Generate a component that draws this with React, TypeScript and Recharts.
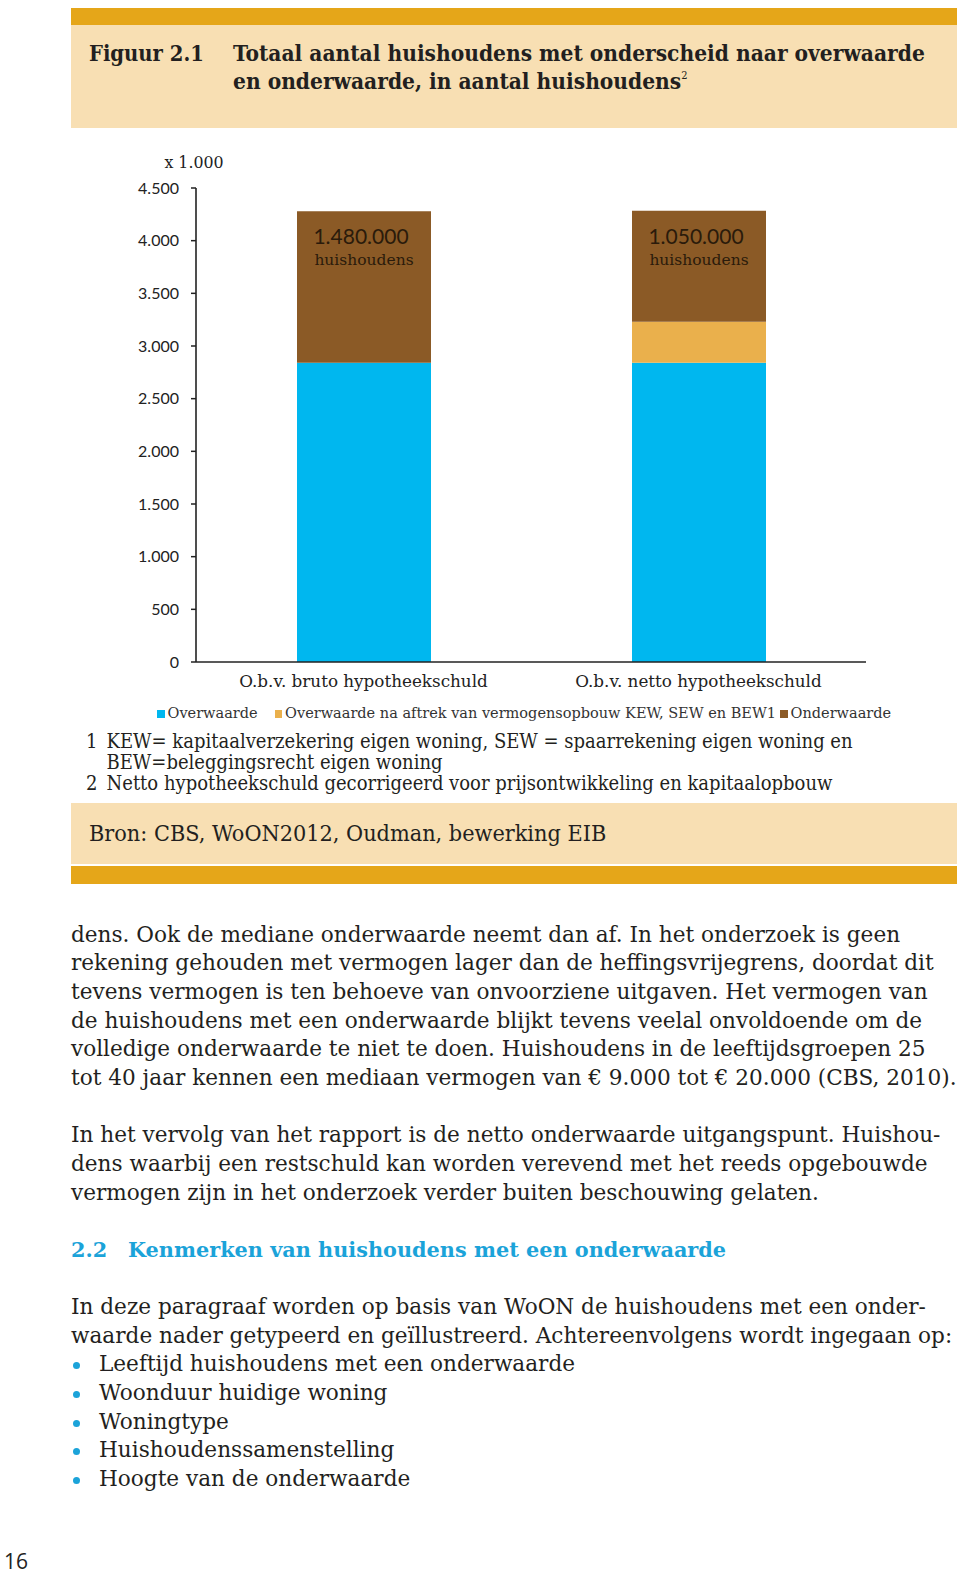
import React from 'react';
import { BarChart, Bar, XAxis, YAxis, Legend, LabelList } from 'recharts';

// ---- chart data ----
const categories = ['O.b.v. bruto hypotheekschuld', 'O.b.v. netto hypotheekschuld'];
const overwaarde = [2840, 2840];
const overwaardeNaAftrek = [0, 390];
const onderwaarde = [1440, 1055];
const onderwaardeLabels = ['1.480.000', '1.050.000'];
const onderwaardeUnit = 'huishoudens';
const yTicks = [0, 500, 1000, 1500, 2000, 2500, 3000, 3500, 4000, 4500];
const yUnitLabel = 'x 1.000';
const seriesNames = ['Overwaarde', 'Overwaarde na aftrek van vermogensopbouw KEW, SEW en BEW1', 'Onderwaarde'];
const seriesColors = ['#00B7EF', '#EAB04C', '#8B5A26'];
const gridTicks = [0, 1, 2];

// ---- page text ----
const figureNumber = 'Figuur 2.1';
const titleLines = ['Totaal aantal huishoudens met onderscheid naar overwaarde', 'en onderwaarde, in aantal huishoudens'];
const footnotes = [
  { n: '1', lines: ['KEW= kapitaalverzekering eigen woning, SEW = spaarrekening eigen woning en', 'BEW=beleggingsrecht eigen woning'] },
  { n: '2', lines: ['Netto hypotheekschuld gecorrigeerd voor prijsontwikkeling en kapitaalopbouw'] },
];
const sourceText = 'Bron: CBS, WoON2012, Oudman, bewerking EIB';
const paragraph1 = [
  'dens. Ook de mediane onderwaarde neemt dan af. In het onderzoek is geen',
  'rekening gehouden met vermogen lager dan de heffingsvrijegrens, doordat dit',
  'tevens vermogen is ten behoeve van onvoorziene uitgaven. Het vermogen van',
  'de huishoudens met een onderwaarde blijkt tevens veelal onvoldoende om de',
  'volledige onderwaarde te niet te doen. Huishoudens in de leeftijdsgroepen 25',
  'tot 40 jaar kennen een mediaan vermogen van € 9.000 tot € 20.000 (CBS, 2010).',
];
const paragraph2 = [
  'In het vervolg van het rapport is de netto onderwaarde uitgangspunt. Huishou-',
  'dens waarbij een restschuld kan worden verevend met het reeds opgebouwde',
  'vermogen zijn in het onderzoek verder buiten beschouwing gelaten.',
];
const headingNumber = '2.2';
const headingText = 'Kenmerken van huishoudens met een onderwaarde';
const paragraph3 = [
  'In deze paragraaf worden op basis van WoON de huishoudens met een onder-',
  'waarde nader getypeerd en geïllustreerd. Achtereenvolgens wordt ingegaan op:',
];
const bullets = [
  'Leeftijd huishoudens met een onderwaarde',
  'Woonduur huidige woning',
  'Woningtype',
  'Huishoudenssamenstelling',
  'Hoogte van de onderwaarde',
];
const pageNumber = '16';

const data = categories.map((name, i) => ({
  name,
  overwaarde: overwaarde[i],
  overwaardeNaAftrek: overwaardeNaAftrek[i],
  onderwaarde: onderwaarde[i],
}));

const SERIF = "'DejaVu Serif', serif";
const SERIF_COND = "'DejaVu Serif Condensed', 'DejaVu Serif', serif";
const SANS = "Lato, 'Open Sans', sans-serif";
const TEXT = '#231F20';
const GOLD = '#E5A619';
const BEIGE = '#F8DFB3';
const BLUE = '#1BA3D9';

const fmt = (v: number) => String(v).replace(/\B(?=(\d{3})+(?!\d))/g, '.');

const renderBarLabel = (props: any) => {
  const { x, y, width, index } = props;
  const cx = x + width / 2 - 3;
  return (
    <g>
      <text x={cx} y={y + 33} textAnchor="middle" fontFamily={SANS} fontSize={21} fill="#2A1B0B">
        {onderwaardeLabels[index]}
      </text>
      <text x={cx + 3} y={y + 54} textAnchor="middle" fontFamily={SERIF} fontSize={15.5} fill="#2A1B0B">
        {onderwaardeUnit}
      </text>
    </g>
  );
};

const renderLegend = () => (
  <div style={{ width: 840, height: 24, whiteSpace: 'nowrap', display: 'flex', alignItems: 'center', paddingLeft: 86, boxSizing: 'border-box' }}>
    {seriesNames.map((name, i) => (
      <div key={i} style={{ display: 'flex', alignItems: 'center', marginRight: i === 0 ? 17 : 4, flexShrink: 0 }}>
        <span style={{ display: 'inline-block', width: 7.5, height: 7.5, background: seriesColors[i], marginRight: 3, marginTop: 2 }} />
        <span style={{ fontFamily: SERIF, fontSize: 14.5, color: '#333' }}>{name}</span>
      </div>
    ))}
  </div>
);

const renderUnitLabel = (props: any) => {
  const vb = props.viewBox || {};
  return (
    <text x={vb.x + vb.width - 2} y={vb.y - 20} textAnchor="middle" fontFamily={SERIF} fontSize={15.8} fill="#222">
      {yUnitLabel}
    </text>
  );
};

function Chart() {
  return (
    <BarChart width={886} height={600} data={data} margin={{ top: 48, right: 91, left: 0, bottom: 15 }}>
      <XAxis
        xAxisId="grid"
        type="number"
        domain={[0, 2]}
        ticks={gridTicks}
        allowDataOverflow
        tick={false}
        tickLine={{ stroke: '#222', strokeWidth: 1.5 }}
        tickSize={5}
        axisLine={false}
        height={0}
      />
      <XAxis
        xAxisId="cat"
        dataKey="name"
        interval={0}
        tickLine={false}
        axisLine={{ stroke: '#222', strokeWidth: 1.6 }}
        tick={{ fill: '#222', fontSize: 16.8, fontFamily: SERIF }}
        tickSize={6}
        tickMargin={7}
        height={39}
      />
      <YAxis
        domain={[0, 4500]}
        ticks={yTicks}
        interval={0}
        tickFormatter={fmt}
        width={125}
        tickSize={5}
        tickMargin={12}
        axisLine={{ stroke: '#222', strokeWidth: 1.6 }}
        tickLine={{ stroke: '#222', strokeWidth: 1.5 }}
        tick={{ fill: '#222', fontSize: 16, fontFamily: SANS }}
        label={{ content: renderUnitLabel }}
      />
      <Legend verticalAlign="bottom" content={renderLegend} wrapperStyle={{ left: 0, width: 840, height: 24 }} />
      <Bar xAxisId="cat" dataKey="overwaarde" name={seriesNames[0]} stackId="a" fill={seriesColors[0]} barSize={134} isAnimationActive={false} />
      <Bar xAxisId="cat" dataKey="overwaardeNaAftrek" name={seriesNames[1]} stackId="a" fill={seriesColors[1]} barSize={134} isAnimationActive={false} />
      <Bar xAxisId="cat" dataKey="onderwaarde" name={seriesNames[2]} stackId="a" fill={seriesColors[2]} barSize={134} isAnimationActive={false}>
        <LabelList dataKey="onderwaarde" content={renderBarLabel} />
      </Bar>
    </BarChart>
  );
}

const LH = 28.65;
const BODY_TOP = 935 - LH / 2;
const BODY_FS = 21.6;

export default function App() {
  const bodyLines: { text: string; kind: string }[] = [];
  paragraph1.forEach((t) => bodyLines.push({ text: t, kind: 'p' }));
  bodyLines.push({ text: '', kind: 'blank' });
  paragraph2.forEach((t) => bodyLines.push({ text: t, kind: 'p' }));
  bodyLines.push({ text: '', kind: 'blank' });
  bodyLines.push({ text: headingText, kind: 'h' });
  bodyLines.push({ text: '', kind: 'blank' });
  paragraph3.forEach((t) => bodyLines.push({ text: t, kind: 'p' }));
  bullets.forEach((t) => bodyLines.push({ text: t, kind: 'b' }));

  return (
    <div style={{ position: 'absolute', left: 0, top: 0, width: 960, height: 1575, background: '#fff', overflow: 'hidden', color: TEXT }}>
      {/* header */}
      <div style={{ position: 'absolute', left: 71, top: 8, width: 886, height: 17, background: GOLD }} />
      <div style={{ position: 'absolute', left: 71, top: 25, width: 886, height: 103, background: BEIGE }} />
      <div style={{ position: 'absolute', left: 89, top: 40, fontFamily: SERIF_COND, fontStretch: 'condensed', fontWeight: 'bold', fontSize: 21.8, lineHeight: '27.6px', whiteSpace: 'nowrap' }}>
        {figureNumber}
      </div>
      <div style={{ position: 'absolute', left: 233, top: 40, fontFamily: SERIF_COND, fontStretch: 'condensed', fontWeight: 'bold', fontSize: 22.5, lineHeight: '27.6px', whiteSpace: 'nowrap' }}>
        <div>{titleLines[0]}</div>
        <div>
          {titleLines[1]}
          <sup style={{ fontSize: 11, fontWeight: 'normal', verticalAlign: 'top', lineHeight: '16px' }}>2</sup>
        </div>
      </div>

      {/* chart */}
      <div style={{ position: 'absolute', left: 71, top: 140, width: 886, height: 600 }}>
        <Chart />
      </div>

      {/* footnotes */}
      <div style={{ position: 'absolute', left: 86, top: 730.5, fontFamily: SERIF_COND, fontStretch: 'condensed', fontSize: 20, lineHeight: '21px', whiteSpace: 'nowrap' }}>
        {footnotes.map((f, i) => (
          <div key={i} style={{ display: 'flex' }}>
            <div style={{ width: 20.5 }}>{f.n}</div>
            <div>
              {f.lines.map((l, j) => (
                <div key={j}>{l}</div>
              ))}
            </div>
          </div>
        ))}
      </div>

      {/* source */}
      <div style={{ position: 'absolute', left: 71, top: 803, width: 886, height: 61, background: BEIGE }} />
      <div style={{ position: 'absolute', left: 89, top: 818, fontFamily: SERIF_COND, fontStretch: 'condensed', fontSize: 23.2, lineHeight: '30px', whiteSpace: 'nowrap' }}>
        {sourceText}
      </div>
      <div style={{ position: 'absolute', left: 71, top: 865.5, width: 886, height: 18, background: GOLD }} />

      {/* body text */}
      {bodyLines.map((l, i) => {
        const top = BODY_TOP + i * LH;
        if (l.kind === 'blank') return null;
        if (l.kind === 'h') {
          return (
            <div key={i} style={{ position: 'absolute', top, left: 71, height: LH, lineHeight: `${LH}px`, fontFamily: SERIF, fontWeight: 'bold', fontSize: 20.8, color: BLUE, whiteSpace: 'nowrap' }}>
              <span style={{ position: 'absolute', left: 0 }}>{headingNumber}</span>
              <span style={{ position: 'absolute', left: 57 }}>{l.text}</span>
            </div>
          );
        }
        if (l.kind === 'b') {
          return (
            <div key={i} style={{ position: 'absolute', top, left: 71, height: LH, lineHeight: `${LH}px`, fontFamily: SERIF, fontSize: BODY_FS, whiteSpace: 'nowrap' }}>
              <span style={{ position: 'absolute', left: 1.5, top: 12, width: 7, height: 7, borderRadius: 4, background: BLUE }} />
              <span style={{ position: 'absolute', left: 28 }}>{l.text}</span>
            </div>
          );
        }
        return (
          <div key={i} style={{ position: 'absolute', top, left: 71, height: LH, lineHeight: `${LH}px`, fontFamily: SERIF, fontSize: BODY_FS, whiteSpace: 'nowrap' }}>
            {l.text}
          </div>
        );
      })}

      <div style={{ position: 'absolute', left: 4, top: 1550, fontFamily: "'Open Sans', sans-serif", fontSize: 21, lineHeight: '22px', color: '#222' }}>
        {pageNumber}
      </div>
    </div>
  );
}
